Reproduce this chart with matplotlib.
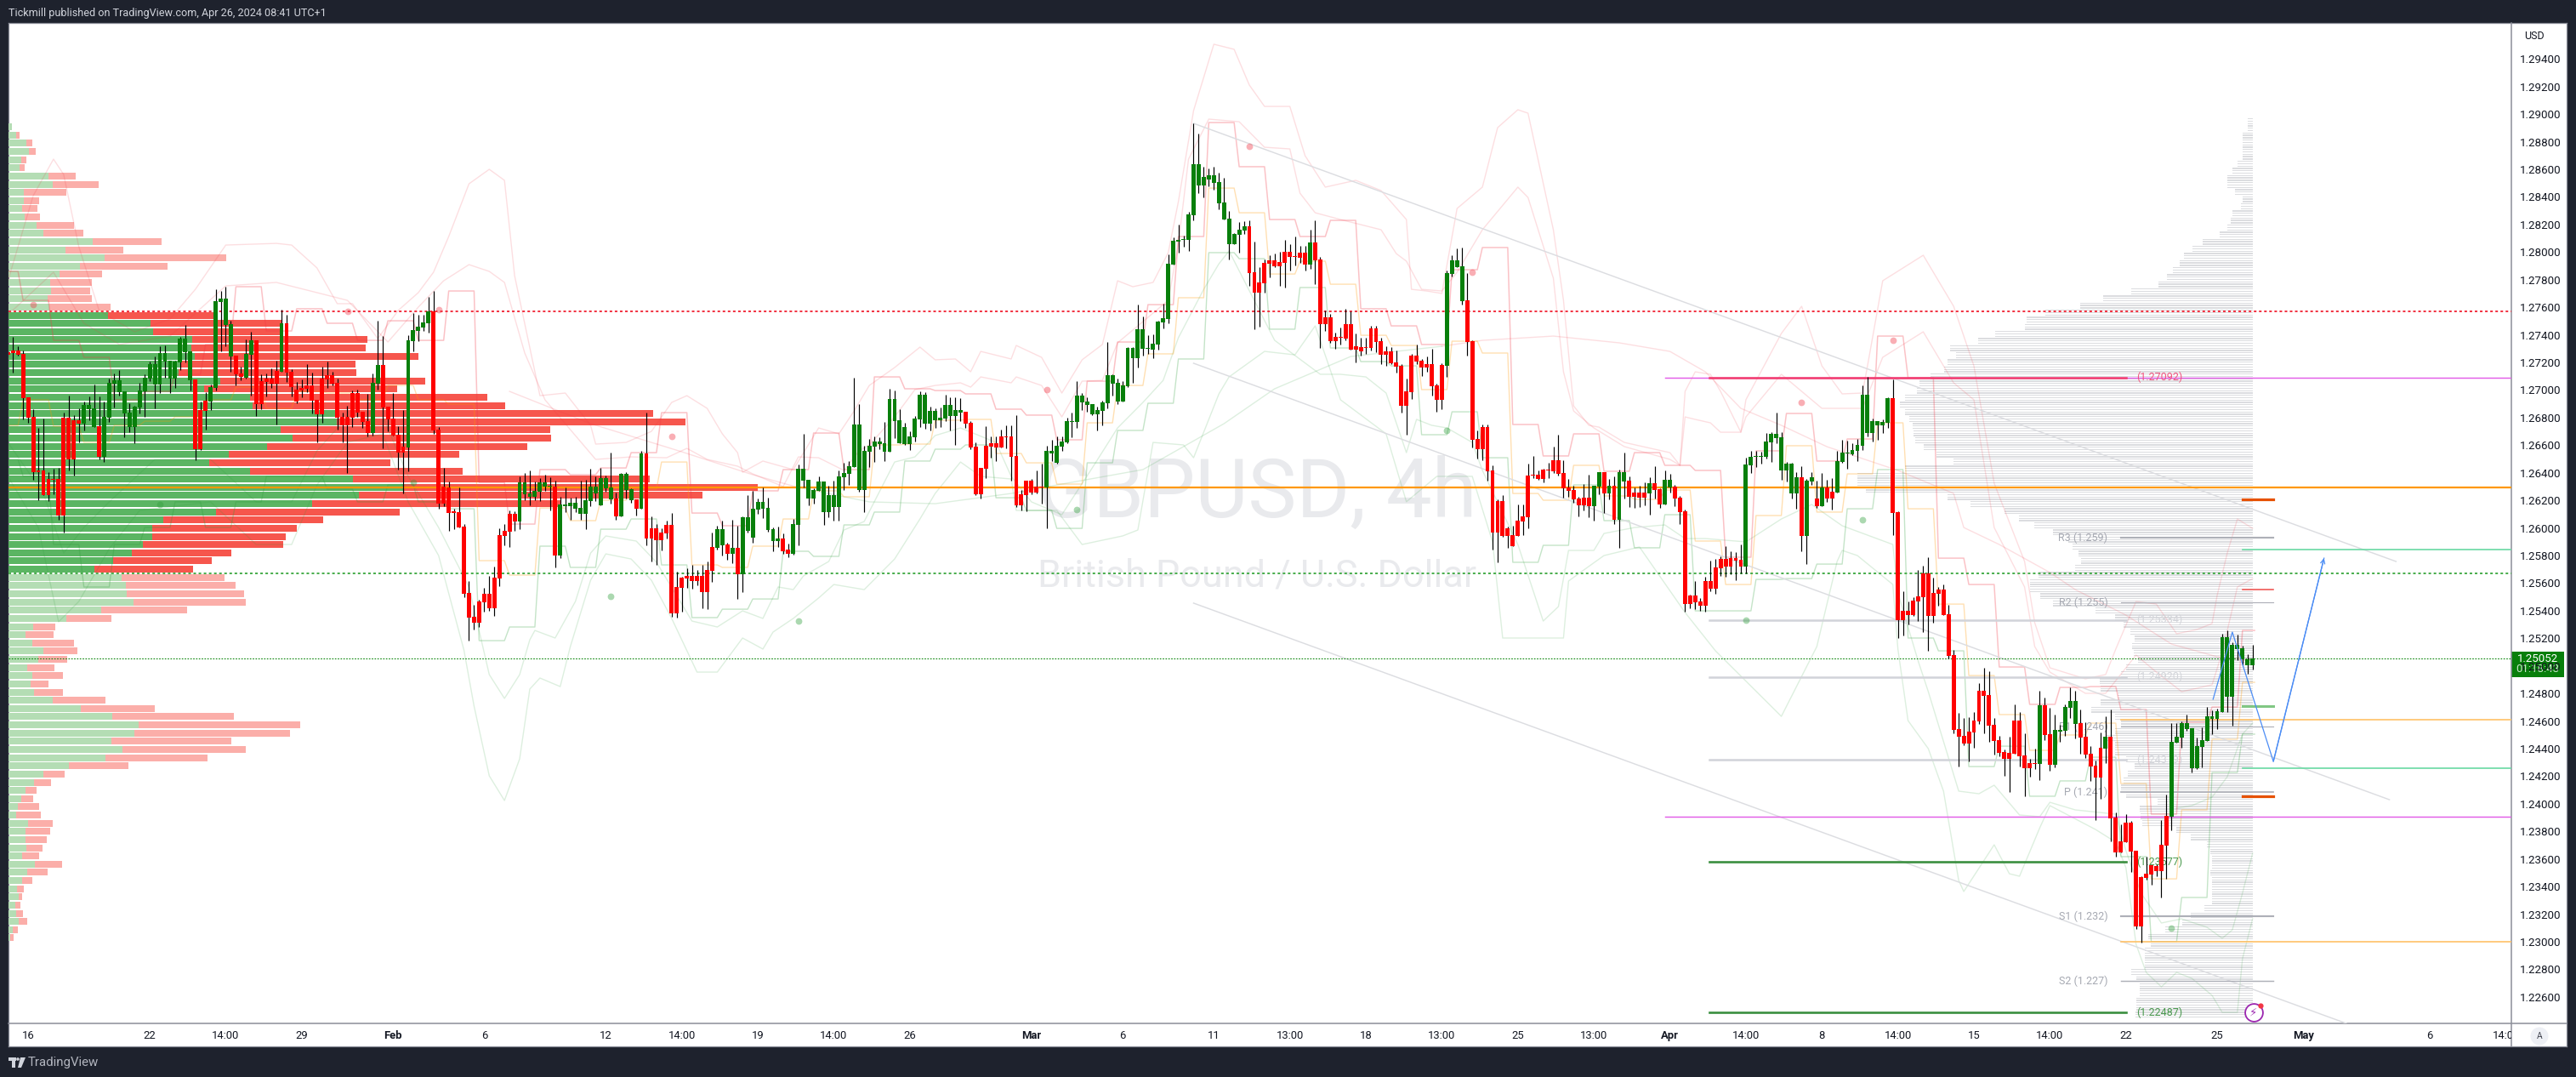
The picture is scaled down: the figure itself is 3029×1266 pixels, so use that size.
import numpy as np
import matplotlib
matplotlib.use("Agg")
import matplotlib.pyplot as plt
from matplotlib.patches import Rectangle, Circle, Polygon
from matplotlib.transforms import Bbox

plt.rcParams['font.family'] = ['Roboto', 'DejaVu Sans']

# ---------- candles: prices as 1.xxxxx -> stored as xxxxx ----------
body_top = [
27273,27286,27286,27261,26947,26805,26416,26416,26355,26355,
26355,26799,26799,26780,26780,26891,26891,26866,26737,26805,
27051,27070,27070,26990,26836,26879,26996,27088,27187,27187,
27267,27267,27212,27206,27372,27372,27280,27076,26854,26922,
27021,27644,27662,27662,27477,27249,27119,27261,27360,27360,
27064,27082,27082,27138,27485,27483,27132,27002,27014,27031,
27031,26928,27082,27107,27107,27051,26805,26805,26977,26977,
26842,26774,27051,27181,27181,26879,26792,26675,26589,27360,
27434,27459,27489,27570,27570,26712,26299,26293,26114,26114,
26009,25528,25355,25466,25522,25522,25639,25947,25978,26102,
26102,26330,26330,26250,26268,26330,26330,26305,26299,26169,
26169,26182,26182,26145,26200,26299,26299,26361,26361,26293,
26213,26392,26392,26280,26206,26540,26540,25997,25997,25966,
26021,26021,25571,25639,25651,25651,25651,25651,25695,25861,
25991,25991,25880,25855,25855,26077,26077,26139,26188,26188,
26145,25991,25923,25923,25843,26028,26429,26429,26348,26274,
26336,26336,26237,26237,26373,26398,26447,26749,26749,26558,
26595,26626,26626,26614,26934,26934,
26781,26732,26664,26793,26966,26966,26849,26849,26799,26892,
26892,26855,26855,26843,26762,26590,26435,26596,26614,26614,
26664,26664,26664,26522,26244,26343,26343,26300,26300,26559,
26559,26596,26627,26775,26775,26960,26960,26917,26898,26855,
26910,27108,27108,27052,27034,27305,27305,27441,27441,27305,
27336,27496,27521,27916,28082,28088,28095,28274,28637,28637,
28545,28557,28557,28508,28360,28243,28132,28162,28187,28187,
27854,27780,27922,27940,27940,27928,28002,28002,27971,27996,
27996,28070,28070,27947,27527,27527,27385,
27385,27477,27477,27317,27311,27311,27447,27447,27354,27280,
27280,27200,27175,26990,27249,27249,27212,27187,27187,27033,
27181,27847,27940,27940,27897,27650,27354,26645,26731,26731,
26416,26194,26194,25997,25948,26053,26083,26379,26386,26386,
26423,26423,26490,26490,26398,26293,26275,26213,26219,26219,
26305,26404,26404,26305,26305,26404,26404,26342,26256,26256,
26256,26324,26324,26281,26349,26349,26299,26219,26120,25510,
25510,25467,25615,25615,25713,25775,25775,25781,25781,25769,
26460,26515,26521,26521,26626,26682,26682,26657,
26466,26466,26367,26367,26342,26367,26213,26293,26293,26262,
26484,26546,26546,26564,26601,26965,26965,26774,26774,26768,
26941,26941,26114,25399,25399,25473,25503,25670,25670,25528,
25553,25553,25374,25078,24541,24492,24523,24603,24819,24819,
24788,24572,24461,24375,24369,24603,24603,24350,24295,24295,
24714,24714,24504,24535,24535,24702,24745,24745,24584,24486,
24362,24276,24406,24486,24486,23900,23728,23863,23863,
23660,23468,23493,23555,23549,23703,23913,24449,24486,24585,
24585,24548,24418,24462,24634,24634,24671,25206,25206,25152,
25152,25128,25047,25052]

body_bottom = [
27253,27267,27257,26943,26801,26406,26404,26239,26239,26348,
26091,26091,26498,26498,26757,26757,26862,26733,26517,26517,
26799,27047,26986,26829,26733,26733,26873,26990,27082,27039,
27039,27206,27082,27082,27200,27273,27070,26570,26570,26848,
26916,27014,27637,27471,27243,27113,27095,27088,27255,26897,
26897,27058,27045,27045,27132,27126,27021,26916,26996,27008,
26922,26823,26823,27076,27045,26799,26743,26743,26799,26836,
26768,26688,26688,27045,26873,26786,26669,26546,26546,26583,
27354,27428,27452,27483,26706,26176,26176,26108,26110,26003,
25522,25349,25312,25312,25460,25417,25417,25633,25941,25972,
26046,26046,26243,26225,26225,26262,26299,26299,25799,25799,
26157,26157,26139,26102,26102,26194,26250,26163,26287,26206,
26083,26083,26274,26200,26139,26139,25923,25923,25910,25910,
25960,25380,25380,25565,25633,25614,25614,25534,25534,25688,
25855,25873,25812,25812,25664,25664,25978,25929,26132,26139,
25984,25904,25904,25834,25812,25812,26021,26342,26213,26213,
26268,26114,26114,26151,26151,26367,26392,26441,26274,26274,
26552,26589,26607,26552,26552,26774,
26614,26608,26608,26657,26787,26756,26756,26781,26781,26793,
26812,26812,26836,26756,26583,26244,26244,26429,26590,26583,
26583,26657,26516,26164,26164,26238,26255,26255,26294,26294,
26540,26472,26590,26620,26769,26769,26910,26892,26824,26824,
26849,26904,27046,26917,26917,27028,27231,27231,27299,27299,
27293,27330,27490,27515,27910,28076,28088,28088,28267,28483,
28483,28526,28502,28354,28237,28058,28058,28125,28156,27848,
27706,27706,27774,27916,27897,27897,27922,27965,27965,27959,
27910,27910,27940,27478,27478,27354,27354,
27379,27373,27292,27292,27280,27305,27305,27348,27255,27255,
27194,27169,26885,26885,26984,27206,27163,27163,27027,26928,
26928,27175,27841,27891,27644,27348,26639,26571,26571,26410,
25966,25966,25942,25942,25868,25942,26046,26077,26379,26355,
26355,26416,26410,26392,26287,26268,26207,26164,26164,26157,
26157,26299,26250,26250,26059,26059,26336,26225,26225,26219,
26219,26250,26275,26170,26170,26293,26213,26114,25448,25448,
25460,25436,25436,25559,25559,25707,25719,25719,25763,25719,
25719,26453,26515,26515,26515,26620,26651,26416,
26416,26250,26250,25941,25941,26336,26157,26157,26213,26213,
26256,26478,26540,26534,26558,26595,26688,26688,26743,26743,
26762,26108,25331,25331,25368,25368,25466,25497,25362,25362,
25522,25368,25072,24535,24486,24436,24436,24517,24597,24782,
24566,24455,24369,24325,24325,24362,24344,24258,24258,24288,
24288,24498,24282,24282,24523,24529,24695,24578,24480,24356,
24270,24190,24190,24400,23894,23647,23647,23721,23654,
23111,23111,23462,23487,23512,23512,23697,23906,24443,24480,
24542,24258,24258,24412,24455,24616,24616,24667,24776,24776,
25123,25047,25004,25004]

high = [
27288,27385,27315,27284,26947,26864,26725,26792,26404,26429,
26435,26836,26959,26817,26866,26916,26953,27037,26953,26916,
27082,27117,27142,26990,26903,26885,27051,27113,27206,27243,
27315,27323,27212,27212,27385,27471,27280,27076,26916,26984,
27041,27730,27718,27748,27502,27249,27169,27366,27422,27360,
27113,27119,27156,27212,27582,27545,27150,27058,27076,27187,
27126,26928,27169,27206,27132,27082,26836,26885,26996,27002,
26842,26971,27119,27502,27391,26879,26977,26737,26854,27397,
27557,27545,27545,27674,27718,26731,26435,26336,26137,26293,
26028,25614,25442,25479,25565,25651,25719,25997,26028,26126,
26120,26373,26398,26416,26336,26361,26385,26367,26342,26225,
26293,26219,26225,26342,26348,26429,26373,26435,26379,26546,
26256,26398,26404,26287,26206,26558,26836,26083,26028,25997,
26052,26108,25682,25645,25707,25732,25695,25732,25756,25966,
26015,26052,25892,26058,26015,26083,26237,26268,26213,26293,
26219,26003,26009,25960,25886,26065,26459,26681,26348,26287,
26373,26336,26305,26342,26416,26472,26484,27088,26897,26595,
26644,26663,26657,26768,27008,26996,
26861,26762,26701,26812,26991,26984,26880,26867,26873,26966,
26947,26947,26941,26843,26775,26620,26435,26738,26664,26664,
26713,26744,26744,26818,26275,26343,26355,26417,26466,26596,
26639,26664,26664,26799,26836,27065,26978,26947,26898,26880,
26923,27348,27114,27083,27065,27311,27311,27620,27533,27398,
27404,27503,27626,27984,28107,28199,28119,28292,28933,28859,
28619,28607,28619,28576,28539,28298,28138,28218,28224,28230,
28076,27891,27947,27977,27990,28002,28088,28058,28113,28045,
28045,28162,28230,27965,27577,27552,27416,
27453,27588,27570,27410,27379,27379,27465,27465,27379,27317,
27311,27286,27187,27083,27261,27329,27224,27243,27298,27046,
27194,27866,27977,28026,28032,27847,27360,26706,26750,26750,
26453,26207,26238,26009,26016,26170,26170,26466,26521,26416,
26429,26472,26589,26676,26490,26355,26305,26225,26318,26386,
26305,26404,26404,26355,26373,26423,26546,26373,26293,26305,
26330,26367,26447,26287,26416,26392,26312,26231,26133,25516,
25615,25491,25645,25763,25775,25793,25868,25830,25824,25880,
26509,26558,26558,26552,26688,26694,26836,26694,
26478,26472,26404,26447,26355,26404,26342,26398,26348,26361,
26558,26638,26632,26614,26645,27033,27095,26793,26774,26786,
26947,27076,26120,25540,25466,25497,25695,25726,25787,25639,
25571,25590,25442,25115,24658,24621,24628,24665,24874,24985,
24961,24621,24492,24393,24486,24720,24665,24510,24325,24399,
24819,24769,24695,24646,24572,24720,24843,24819,24683,24591,
24418,24313,24517,24634,24684,23937,23851,23925,23876,
23660,23475,23617,23555,23561,23882,24067,24585,24585,24597,
24647,24548,24480,24554,24702,24677,24690,25232,25255,25171,
25226,25144,25084,25152]

low = [
27237,27128,27247,26788,26764,26348,26202,26235,26196,26243,
26058,25968,26418,26381,26620,26706,26780,26733,26496,26480,
26768,26873,26959,26657,26694,26616,26829,26805,27064,26866,
26977,27088,26977,27014,27144,27200,26996,26492,26564,26712,
26854,26996,27280,27317,27132,27033,27070,27082,26959,26811,
26860,26953,27014,26749,27132,27058,26953,26903,26947,26984,
26829,26620,26762,27014,27033,26712,26620,26398,26731,26805,
26725,26663,26669,27002,26577,26700,26669,26422,26250,26410,
27280,27354,27428,27415,26681,26139,26157,25978,25993,26003,
25497,25183,25263,25281,25392,25398,25361,25577,25873,25861,
25978,25991,26200,26163,26200,26194,26268,26126,25713,25781,
26114,26058,26114,26058,25991,26157,26194,26163,26262,26176,
26058,26083,26213,26182,26089,26139,25873,25756,25732,25836,
25923,25355,25349,25392,25565,25559,25583,25417,25411,25608,
25843,25799,25769,25744,25485,25534,25966,25892,26102,26071,
25972,25830,25861,25812,25787,25806,25873,26293,26163,26176,
26268,26021,26077,26052,26052,26274,26311,26441,26262,26114,
26441,26478,26570,26484,26552,26651,
26614,26602,26565,26627,26732,26719,26707,26725,26732,26775,
26707,26602,26775,26725,26571,26238,26213,26361,26509,26485,
26583,26577,26343,26152,26127,26121,26244,26250,26176,25998,
26485,26466,26559,26614,26657,26725,26855,26843,26818,26707,
26744,26867,26960,26898,26917,27021,27052,27163,27250,27262,
27231,27293,27447,27484,27910,27996,28039,28008,28230,28428,
28397,28477,28452,28311,28237,27947,28058,27996,28132,27755,
27441,27459,27706,27817,27891,27755,27743,27866,27903,27922,
27866,27879,27768,27305,27428,27342,27299,
27329,27360,27292,27200,27249,27261,27286,27274,27187,27175,
27187,27126,26836,26676,26935,27187,27101,27132,26959,26842,
26861,27095,27823,27891,27619,27249,26583,26503,26490,26342,
25843,25750,25935,25855,25868,25942,25948,25997,26361,26349,
26330,26361,26398,26379,26219,26225,26182,26083,26127,26077,
26053,26244,26108,26207,26028,25855,26213,26151,26145,26151,
26164,26096,26213,26145,26170,26256,26157,26028,25393,25417,
25411,25399,25393,25541,25522,25652,25645,25664,25621,25670,
25670,26398,26441,26466,26503,26478,26614,26349,
26336,26213,26139,25830,25738,26311,26145,26157,26188,26133,
26256,26472,26429,26527,26484,26564,26663,26626,26638,26688,
26725,25948,25201,25220,25300,25362,25325,25244,25109,25312,
25436,25368,25053,24510,24270,24424,24307,24406,24578,24510,
24449,24356,24344,24202,24085,24362,24270,24054,24196,24251,
24171,24461,24239,24264,24449,24492,24621,24473,24362,24332,
24165,23882,24036,24295,23728,23617,23647,23721,23505,
23092,22994,23450,23413,23475,23320,23456,23808,24443,24406,
24529,24227,24252,24264,24455,24505,24542,24667,24667,24566,
25041,24996,24943,24973]

direction_runs = [('r',15),('g',3),('r',1),('g',18),('r',3),('g',5),('r',2),('g',2),('r',5),('g',1),
 ('r',17),('g',2),('r',5),('g',5),('r',17),('g',7),('r',1),('g',11),('r',1),('g',3),('r',1),('g',1),
 ('r',14),('g',2),('r',1),('g',1),('r',1),('g',8),('r',2),('g',34),('r',16),('g',40),('r',12),('g',1),
 ('r',26),('g',4),('r',25),('g',2),('r',1),('g',1),('r',1),('g',2),('r',4),('g',1),('r',2),('g',2),
 ('r',14),('g',11),('r',1),('g',2),('r',1),('g',1),('r',2),('g',11),('r',29),('g',1),('r',2),('g',5),
 ('r',5),('g',1),('r',12),('g',17)]

# ---------- daily step channels (one level per session) ----------
step_start = -3
step_red = [27860,27650,27360,27237,26929,26990,27114,27330,27749,27428,27589,27484,27360,27502,27360,27718,
26330,26028,26423,26386,26435,26546,26836,26108,26016,26269,26423,26688,26423,27095,27009,26996,26972,26861,
26818,26639,27064,27348,27619,28113,28939,28619,28236,28113,28230,27589,27465,27330,27872,28033,26750,26522,
26682,26411,26546,26454,26417,25788,26559,26830,26485,26645,27391,27089,25781,25590,24992,24721,24844,24850,
24684,23925,24591,24702,25257]
step_orange = [26744,26929,26737,26620,26744,26774,26805,26929,27021,26867,26990,26978,26929,27033,26929,26898,
25763,25658,26145,26053,26201,26281,26478,25732,25714,25868,26065,26269,26226,26602,26608,26781,26787,26540,
26472,26318,26762,27033,27262,27669,28464,28285,27841,27934,27767,27397,27323,27003,27354,27268,26250,26201,
26454,26232,26207,26275,25905,25590,26090,26596,26115,26392,26762,26139,25448,24930,24647,24388,24499,24585,
24147,23456,23956,24468,24881]
step_green = [26497,26374,25880,25572,25880,26004,26189,26004,26189,26374,26374,26281,26189,26312,26189,26139,
25183,25282,25868,25714,25991,26065,25732,25350,25411,25485,25831,25794,26022,26115,26485,26571,26602,26219,
26127,25997,26472,26707,26904,27225,27996,27952,27441,27743,27305,27206,27175,26676,26842,26509,25751,25874,
26312,26053,25856,26096,25399,25399,25627,25633,25738,26139,26423,25202,25109,24270,24418,24055,24166,24338,
23617,23000,23321,24227,24505]

# ---------- pale bands ----------
uo_i = [0,5,9,11,14,18,25,32,37,43,53,56,61,65,68,73,77,81,84,87,91,95,98,100,105,110,115,116,122,127,131,134,138,141,144,145,149,155,160,164,167,170,175,180,183,187,190,192,198,199,204,208,212,216,219,222,226,229,231,234,238,242,245,248,253,256,260,266,271,276,277,280,283,286,291,294,298,300,305,307,309,312,314,319,328,330,331,333,336,338,342,343,350,354,358,362,366,367,370,378,384,388,392,398,400,403,410,414,416,420,424,428,432,435,436,438,440,443]
uo_v = [27792,28409,28674,28563,28039,27576,27422,27515,27730,28051,28063,28051,27885,27626,27626,27373,27576,27706,27854,28113,28495,28600,28520,27829,26959,26978,26744,26608,26620,26700,26910,26959,26867,26682,26546,26404,26485,26423,26725,26682,26848,27033,27163,27311,27219,27225,27132,27280,27225,27323,27237,26978,27219,27330,27792,27749,27780,27996,28366,29026,29507,29470,29211,29056,29056,28699,28471,28520,28446,28236,27730,27718,27700,28316,28471,28902,29032,29007,28162,27650,26885,26744,26731,26620,26546,26454,26990,27132,27114,26990,26694,26929,27410,27607,27175,26972,26978,27175,27792,27977,27607,27175,26324,25757,25313,24986,24906,24937,25122,25467,25448,25233,25263,25307,25510,25818,26065,25997]
ui_i = [0,9,15,22,32,43,53,61,67,75,81,86,91,95,98,102,106,110,116,123,130,134,138,144,147,153,156,160,165,168,170,175,179,183,188,190,192,198,199,204,208,212,216,219,229,231,233,237,243,248,253,255,258,263,271,274,276,279,283,286,291,298,300,305,307,309,313,319,328,330,331,333,336,338,342,343,350,358,366,370,378,384,388,392,398,400,403,410,414,420,424,429,435,437,440,443]
ui_v = [27545,27854,27484,27330,27391,27755,27780,27706,27650,27348,27601,27792,27909,27860,27780,27268,26929,26756,26497,26515,26509,26577,26497,26448,26392,26300,26515,26509,26417,26559,26602,26805,27003,27033,27052,27021,27095,27052,27095,27033,26805,27064,27070,27342,27650,28057,28674,28964,28945,28760,28748,28427,28285,28236,28162,27989,27934,27730,27718,27854,28162,28471,28396,27811,27132,26848,26725,26590,26497,26454,26805,26787,26762,26694,26694,26805,27114,26867,26867,27237,27422,27052,26929,26003,25572,25140,24955,24801,24801,25078,24955,24813,24863,25097,25572,25633]
li_i = [0,7,11,15,20,29,40,49,56,61,67,74,79,85,91,95,98,101,103,104,108,112,115,118,124,128,133,135,140,145,149,152,155,157,162,165,169,175,179,183,188,195,198,202,208,214,219,224,228,231,236,239,241,250,259,263,268,272,276,278,281,284,289,291,298,303,306,308,313,315,321,327,331,335,343,350,356,362,372,373,377,379,385,389,392,397,401,403,408,416,418,421,425,429,434,437,439,441,443]
li_v = [26620,26250,25818,26003,26189,26497,26497,26189,26189,26559,26805,26805,26374,26003,25572,24937,24764,24937,25189,25257,25202,25467,25818,25942,25905,25751,25448,25325,25282,25399,25344,25572,25553,25652,25757,25985,26047,26478,26515,26670,26725,26620,26374,26189,26096,26435,26725,26910,27070,27379,27730,27915,28008,27360,27114,27114,27095,26978,26546,26787,26744,26725,26620,26417,25880,25325,25430,25837,25837,25960,26003,26022,25923,25923,25899,26065,26170,26016,25880,25529,25035,24813,24092,24073,24135,23919,23907,24011,23956,23925,23660,23352,23136,23166,23105,23025,23086,23352,23641]
lo_i = [0,6,10,14,20,26,40,49,56,61,67,74,79,85,90,92,95,98,101,103,105,109,111,115,118,123,127,131,136,140,145,149,151,155,160,163,169,175,180,183,188,192,198,199,207,212,220,223,226,232,234,239,241,248,254,258,263,272,276,282,289,293,295,307,308,311,315,322,331,337,350,357,361,362,365,372,373,375,379,382,385,386,392,395,397,401,403,412,416,418,420,422,425,428,431,435,437,440,441,443]
lo_v = [26374,26003,25319,25467,25849,26127,26189,25880,25880,26312,26620,26682,26189,25800,25115,24708,24203,24024,24326,24832,24912,24850,25140,25621,25812,25775,25621,25344,24955,24955,25202,25122,25245,25344,25492,25590,25553,25775,26065,26250,26478,26374,26355,26127,26127,25880,25942,25985,26620,26602,26509,26972,27095,27280,27255,27465,26929,26682,26190,26374,26374,25899,25202,25202,25615,25695,25800,25862,25387,25109,24634,25140,25757,25837,25800,25590,25122,24603,24400,24092,23444,23364,23703,23493,23475,23826,23987,23814,23722,23537,22982,22778,22673,22778,22735,22611,22488,22488,22877,23167]
lm_i = [428,431,435,438,441,443]
lm_v = [23968,23987,24048,24196,24505,24585]
slow_i = [99,115,133,147,156,170,183,198,208,224,240,250,265,283,291,305,318,328,335,342,350,359,373,384,386,393,403,408,418,427,436,443]
slow_v = [26990,26756,26552,26386,26293,26189,26176,26250,26318,26423,26756,27009,27243,27317,27360,27391,27342,27280,27132,26867,26744,26589,26417,26250,26003,25880,25677,25553,25368,25158,25066,25041]

pivot_high_i = [5,67.1,85,131,205,245,289,354,372]
pivot_high_v = [27619,27570,27582,26663,27003,28767,27854,26910,27360]
pivot_low_i = [30,80,119,156,211,284,343,366,427]
pivot_low_v = [26170,26330,25504,25325,26133,26707,25331,26059,23099]

# ---------- left volume profile ----------
vp_top, vp_bottom = 28908, 23028
vp_buy = [4,9,21,24,15,13,47,52,18,18,16,19,33,41,99,67,113,84,60,49,50,46,48,
117,167,170,216,215,219,203,200,249,230,284,287,387,386,320,334,304,259,236,284,405,465,412,357,244,182,169,169,158,145,123,101,
133,138,139,147,109,68,29,20,28,41,35,22,
28,26,30,52,85,122,153,148,121,134,114,71,41,30,20,15,11,9,23,20,20,21,16,31,22,16,10,12,8,9,12,5,2]
vp_total = [4,13,28,32,21,19,79,106,68,36,34,37,77,88,180,135,256,187,110,98,96,98,120,
245,321,320,422,420,482,408,409,490,457,563,584,758,796,637,638,610,530,449,534,754,881,816,649,460,370,339,326,323,262,239,217,
254,267,277,279,210,121,55,53,77,81,69,54,
64,47,64,114,172,265,343,331,262,279,234,141,66,50,33,29,36,38,52,49,45,40,36,63,46,28,18,16,14,17,22,11,6]
vp_value_area = (23, 55)

# ---------- right volume profile ----------
gp_top, gp_bottom = 28949, 22472
gp_width = [6,6,12,12,12,12,18,24,30,30,21,12,14,24,26,30,39,59,71,81,86,94,101,111,143,176,203,244,266,268,303,323,356,349,359,363,
379,392,395,409,415,409,404,400,399,397,387,372,352,409,465,465,455,359,332,292,275,257,235,217,212,205,202,209,252,262,262,250,235,185,162,152,144,139,142,140,135,149,155,180,179,159,179,190,162,155,162,172,162,162,149,139,147,152,155,149,112,
133,132,130,90,73,54,50,48,48,50,48,48,48,48,57,73,83,103,123,120,127,127,127,143,137,133,133,137,137,138]

# ---------- levels ----------
orange_level = 26293
red_dotted, green_dotted, last_price = 27570, 25670, 25052
magenta_levels = [27092, 23906]
pivot_levels = [('R3 (1.259)',25930),('R2 (1.255)',25460),('R1 (1.246)',24560),('P (1.241)',24085),('S1 (1.232)',23185),('S2 (1.227)',22716)]
pivot_weights = [2.2,1.2,1.2,1.8,2.2,1.5]
gray_rays = [('(1.25334)',25334),('(1.24920)',24920),('(1.24319)',24319)]
green_rays = [('(1.23577)',23577),('(1.22487)',22487)]
long_orange = [24609,23000]
long_mint = [25843,24258]
short_segments = [(26207,'#e65100',3.2),(24055,'#e65100',3.2),(25553,'#ef5350',1.6),(24708,'#81c784',3.0)]
trend_i = [(234,471.3),(234,470),(234,461.5)]
trend_v = [(28933,25757),(27194,24030),(25455,22408)]
blue_i = [435.2,439.0,447.1,457.1]
blue_v = [24758,25245,24307,25781]

# ---------- axes labels ----------
xtick_idx = [4,28,43,58,76,94,118,133,148,163,178,202,220,238,253,268,283,298,313,328,343,358,373,388,403,418,436,453,478,493]
xtick_lab = ['16','22','14:00','29','Feb','6','12','14:00','19','14:00','26','Mar','6','11','13:00','18','13:00','25','13:00','Apr','14:00','8','14:00','15','14:00','22','25','May','6','14:00']
month_labels = {'Feb','Mar','Apr','May'}
ytick_vals = [1.226+0.002*k for k in range(35)]


def P(v):
    return 1 + np.asarray(v, dtype=float)/1e5

W, H = 3029, 1266
fig = plt.figure(figsize=(W/100, H/100), dpi=100, facecolor='#1e222d')
def rect_ax(l, t, r, b, **kw):
    return fig.add_axes([l/W, 1-b/H, (r-l)/W, (b-t)/H], **kw)

# chrome (pixel coordinates)
ch = fig.add_axes([0,0,1,1], zorder=0); ch.set_xlim(0,W); ch.set_ylim(H,0); ch.axis('off')
ch.add_patch(Rectangle((10,27),3008,1203,fc='white',ec='none'))
grey = '#8b8e98'
ch.plot([10,3018],[27,27],color=grey,lw=0.9)
ch.plot([10,10],[27,1230],color=grey,lw=0.9)
ch.plot([10,3018],[1203,1203],color=grey,lw=1.1)
ch.plot([10,3018],[1230,1230],color=grey,lw=0.9)
ch.plot([2953,2953],[27,1230],color=grey,lw=1.1)
ch.plot([3018,3018],[27,1230],color=grey,lw=0.9)
ch.text(10,16,'Tickmill published on TradingView.com, Apr 26, 2024 08:41 UTC+1',color='#d1d4dc',fontsize=9.1,va='center',ha='left')
ch.text(33,1249.5,'TradingView',color='#b2b5be',fontsize=10.8,va='center',ha='left')
# logo
ch.add_patch(Rectangle((10,1243),9,3.5,fc='#d1d4dc',ec='none'))
ch.add_patch(Rectangle((13.5,1243),4,12,fc='#d1d4dc',ec='none'))
ch.add_patch(Circle((21,1245),1.8,fc='#d1d4dc',ec='none'))
ch.add_patch(Polygon([[24,1243],[30,1243],[25,1255],[21,1255]],fc='#d1d4dc',ec='none'))
ch.text(2968,43,'USD',color='#131722',fontsize=9,va='center',ha='left')
ch.add_patch(Rectangle((2953,766),62,30,fc='#087f0b',ec='none'))
ch.text(2984,774,'1.25052',color='white',fontsize=9.5,va='center',ha='center')
ch.text(2984,787,'01:18:43',color='#c8e6c9',fontsize=9.5,va='center',ha='center')
ch.add_patch(Circle((2986,1218),10.5,fc='#eef0f5',ec='none'))
ch.text(2986,1218,'A',color='#434651',fontsize=7.4,va='center',ha='center')

# volume profile axes
av = rect_ax(10,27,2953,1203, zorder=1); av.patch.set_alpha(0); av.axis('off')
ymin, ymax = P(22408), P(29661)
av.set_xlim(0,2943); av.set_ylim(ymin,ymax)
n = len(vp_buy)
yrow = np.linspace(P(vp_top),P(vp_bottom),n)
buy = np.array(vp_buy,float); tot = np.array(vp_total,float)
inside = np.zeros(n,bool); inside[vp_value_area[0]:vp_value_area[1]] = True
rh = 8.0*6.1675e-5
av.barh(yrow,buy,height=rh,color=np.where(inside,'#5bb563','#b4ddb4'),lw=0)
av.barh(yrow,tot-buy,left=buy,height=rh,color=np.where(inside,'#f6564d','#fbaea9'),lw=0)
gy = np.linspace(P(gp_top),P(gp_bottom),len(gp_width))
gw = np.array(gp_width,float)
stripe = 2.77*6.1675e-5
for off in (-1,0,1):
    av.barh(gy+off*stripe,gw,left=2639-gw,height=1.3*6.1675e-5,color='#dcdde0',lw=0)

# main price axes
ax = rect_ax(10,27,2953,1203, zorder=2); ax.patch.set_alpha(0)
ax.set_xlim(0.12,494.07); ax.set_ylim(ymin,ymax)
for s in ax.spines.values(): s.set_visible(False)

ax.text(246.5,P(26078),'GBPUSD, 4h',color='#e9eaed',fontsize=69,ha='center',va='baseline',zorder=0)
ax.text(246.5,P(25578),'British Pound / U.S. Dollar',color='#e9eaed',fontsize=32.4,ha='center',va='baseline',zorder=0)

pale_kw = dict(lw=1.0,zorder=1,alpha=0.16)
ax.plot(uo_i,P(uo_v),color='#f23645',**pale_kw)
ax.plot(ui_i,P(ui_v),color='#f23645',**pale_kw)
ax.plot(li_i,P(li_v),color='#2e9e3a',**pale_kw)
ax.plot(lo_i,P(lo_v),color='#2e9e3a',**pale_kw)
ax.plot(lm_i,P(lm_v),color='#2e9e3a',**pale_kw)
si, sv = np.array(slow_i), P(slow_v)
m1 = si<=156; m2 = (si>=156)&(si<=283); m3 = si>=283
ax.plot(si[m1],sv[m1],color='#f23645',**pale_kw)
ax.plot(si[m2],sv[m2],color='#2e9e3a',**pale_kw)
ax.plot(si[m3],sv[m3],color='#f23645',**pale_kw)

def step_xy(levels):
    xs, ys = [], []
    for k, v in enumerate(levels):
        s = step_start + 6*k
        xs += [s, min(s+5, 443.4)]
        ys += [P(v), P(v)]
    return xs, ys
sx, sy = step_xy(step_red);    ax.plot(sx,sy,color='#f23645',lw=1.1,alpha=0.3,zorder=1.5)
sx, sy = step_xy(step_orange); ax.plot(sx,sy,color='#ff9800',lw=1.0,alpha=0.3,zorder=1.5)
sx, sy = step_xy(step_green);  ax.plot(sx,sy,color='#2e9e3a',lw=1.0,alpha=0.28,zorder=1.5)

for ti, tv in zip(trend_i, trend_v):
    ax.plot(ti,P(tv),color='#dcdde1',lw=1.05,zorder=1.6)

X0, X1 = 0.12, 494.07
ax.plot([X0,X1],[P(red_dotted)]*2,color='#f23645',lw=1.45,dashes=(1.5,1.5),zorder=2)
ax.plot([X0,X1],[P(green_dotted)]*2,color='#4caf50',lw=1.45,dashes=(1.5,1.5),zorder=2)
ax.plot([X0,X1],[P(last_price)]*2,color='#0c860c',lw=0.8,dashes=(1.5,1.5),zorder=2)
ax.plot([X0,X1],[P(orange_level)]*2,color='#ff9800',lw=1.6,zorder=2.2)
for v in magenta_levels:
    ax.plot([327.1,X1],[P(v)]*2,color='#e25ee8',lw=1.05,zorder=2)
ax.plot([335.8,418.1],[P(27092)]*2,color='#f23a6d',lw=1.8,zorder=2.1)
ax.text(420,P(27092),'(1.27092)',color='#f2557f',fontsize=9,va='center',ha='left',zorder=2.1)
for lab, v in gray_rays:
    ax.plot([335.8,418.1],[P(v)]*2,color='#d1d3d9',lw=1.8,zorder=2)
    ax.text(420,P(v),lab,color='#d3d5da',fontsize=9,va='center',ha='left',zorder=2)
for lab, v in green_rays:
    ax.plot([335.8,418.1],[P(v)]*2,color='#3b8f40',lw=1.9,zorder=2)
    ax.text(420,P(v),lab,color='#4c9a50',fontsize=9,va='center',ha='left',zorder=2)
for (lab, v), w in zip(pivot_levels, pivot_weights):
    ax.plot([417,447.1],[P(v)]*2,color='#aeb0b8',lw=w*0.7,zorder=2)
    ax.text(414.4,P(v),lab,color='#a6a9b2',fontsize=9,va='center',ha='right',zorder=2)
for v in long_orange:
    ax.plot([417,X1],[P(v)]*2,color='#ffc167',lw=1.2,zorder=2.1)
for v in long_mint:
    ax.plot([441,X1],[P(v)]*2,color='#69d9a3',lw=1.2,zorder=2.1)
for v, c, w in short_segments:
    ax.plot([441,447.1],[P(v)]*2,color=c,lw=w*0.72,zorder=2.2)

# candles
top, bot, hi, lo = map(P,(body_top,body_bottom,high,low))
dirs = ''.join(d*c for d,c in direction_runs)
N = min(len(top),len(bot),len(hi),len(lo),len(dirs))
idx = np.arange(N)
cols = np.array(['#ff0000' if d=='r' else '#087f0b' for d in dirs[:N]])
ax.vlines(idx,lo[:N],hi[:N],color='black',lw=0.85,zorder=3)
hgt = np.maximum(top[:N]-bot[:N],0.00008)
ax.bar(idx,hgt,bottom=bot[:N],width=0.82,color=cols,lw=0,zorder=3.1)

ax.plot(pivot_high_i,P(pivot_high_v),'o',color='#f23645',alpha=0.4,ms=5.6,mew=0,zorder=3.2)
ax.plot(pivot_low_i,P(pivot_low_v),'o',color='#2e9e3a',alpha=0.4,ms=5.6,mew=0,zorder=3.2)

# projected path
bv = P(blue_v)
ax.plot(blue_i,bv,color='#4c8df5',lw=0.9,zorder=3.4)
ax.annotate('',xy=(blue_i[-1],bv[-1]),xytext=(blue_i[-2],bv[-2]),
            arrowprops=dict(arrowstyle='->',color='#4c8df5',lw=0.9,mutation_scale=9,shrinkA=0,shrinkB=0),zorder=3.4)

# replay badge
ax.plot([443.2],[P(22488)],'o',mfc='white',mec='#9c27b0',mew=1.3,ms=15,zorder=4)
ax.text(443.2,P(22488),'\u26a1',family='DejaVu Sans',color='#9c27b0',fontsize=9.5,ha='center',va='center',zorder=4.1)
ax.plot([444.6],[P(22535)],'o',color='#f23645',ms=4.5,mew=0,zorder=4.2)

# axes ticks
ax.yaxis.tick_right()
ax.set_yticks(ytick_vals)
ax.set_yticklabels([f'{v:.5f}' for v in ytick_vals])
ax.tick_params(axis='y',length=0,pad=7,labelsize=9.6,labelcolor='#131722')
ax.set_xticks(xtick_idx)
ax.set_xticklabels(xtick_lab)
ax.tick_params(axis='x',length=0,pad=5.5,labelsize=9.4,labelcolor='#131722')
for lb in ax.get_xticklabels():
    if lb.get_text() in month_labels:
        lb.set_fontweight('bold')
last = ax.get_xticklabels()[-1]
last.set_clip_on(True)
last.set_clip_box(Bbox([[10,0],[2953,H]]))

fig.savefig('out.png',dpi=100,facecolor=fig.get_facecolor())
